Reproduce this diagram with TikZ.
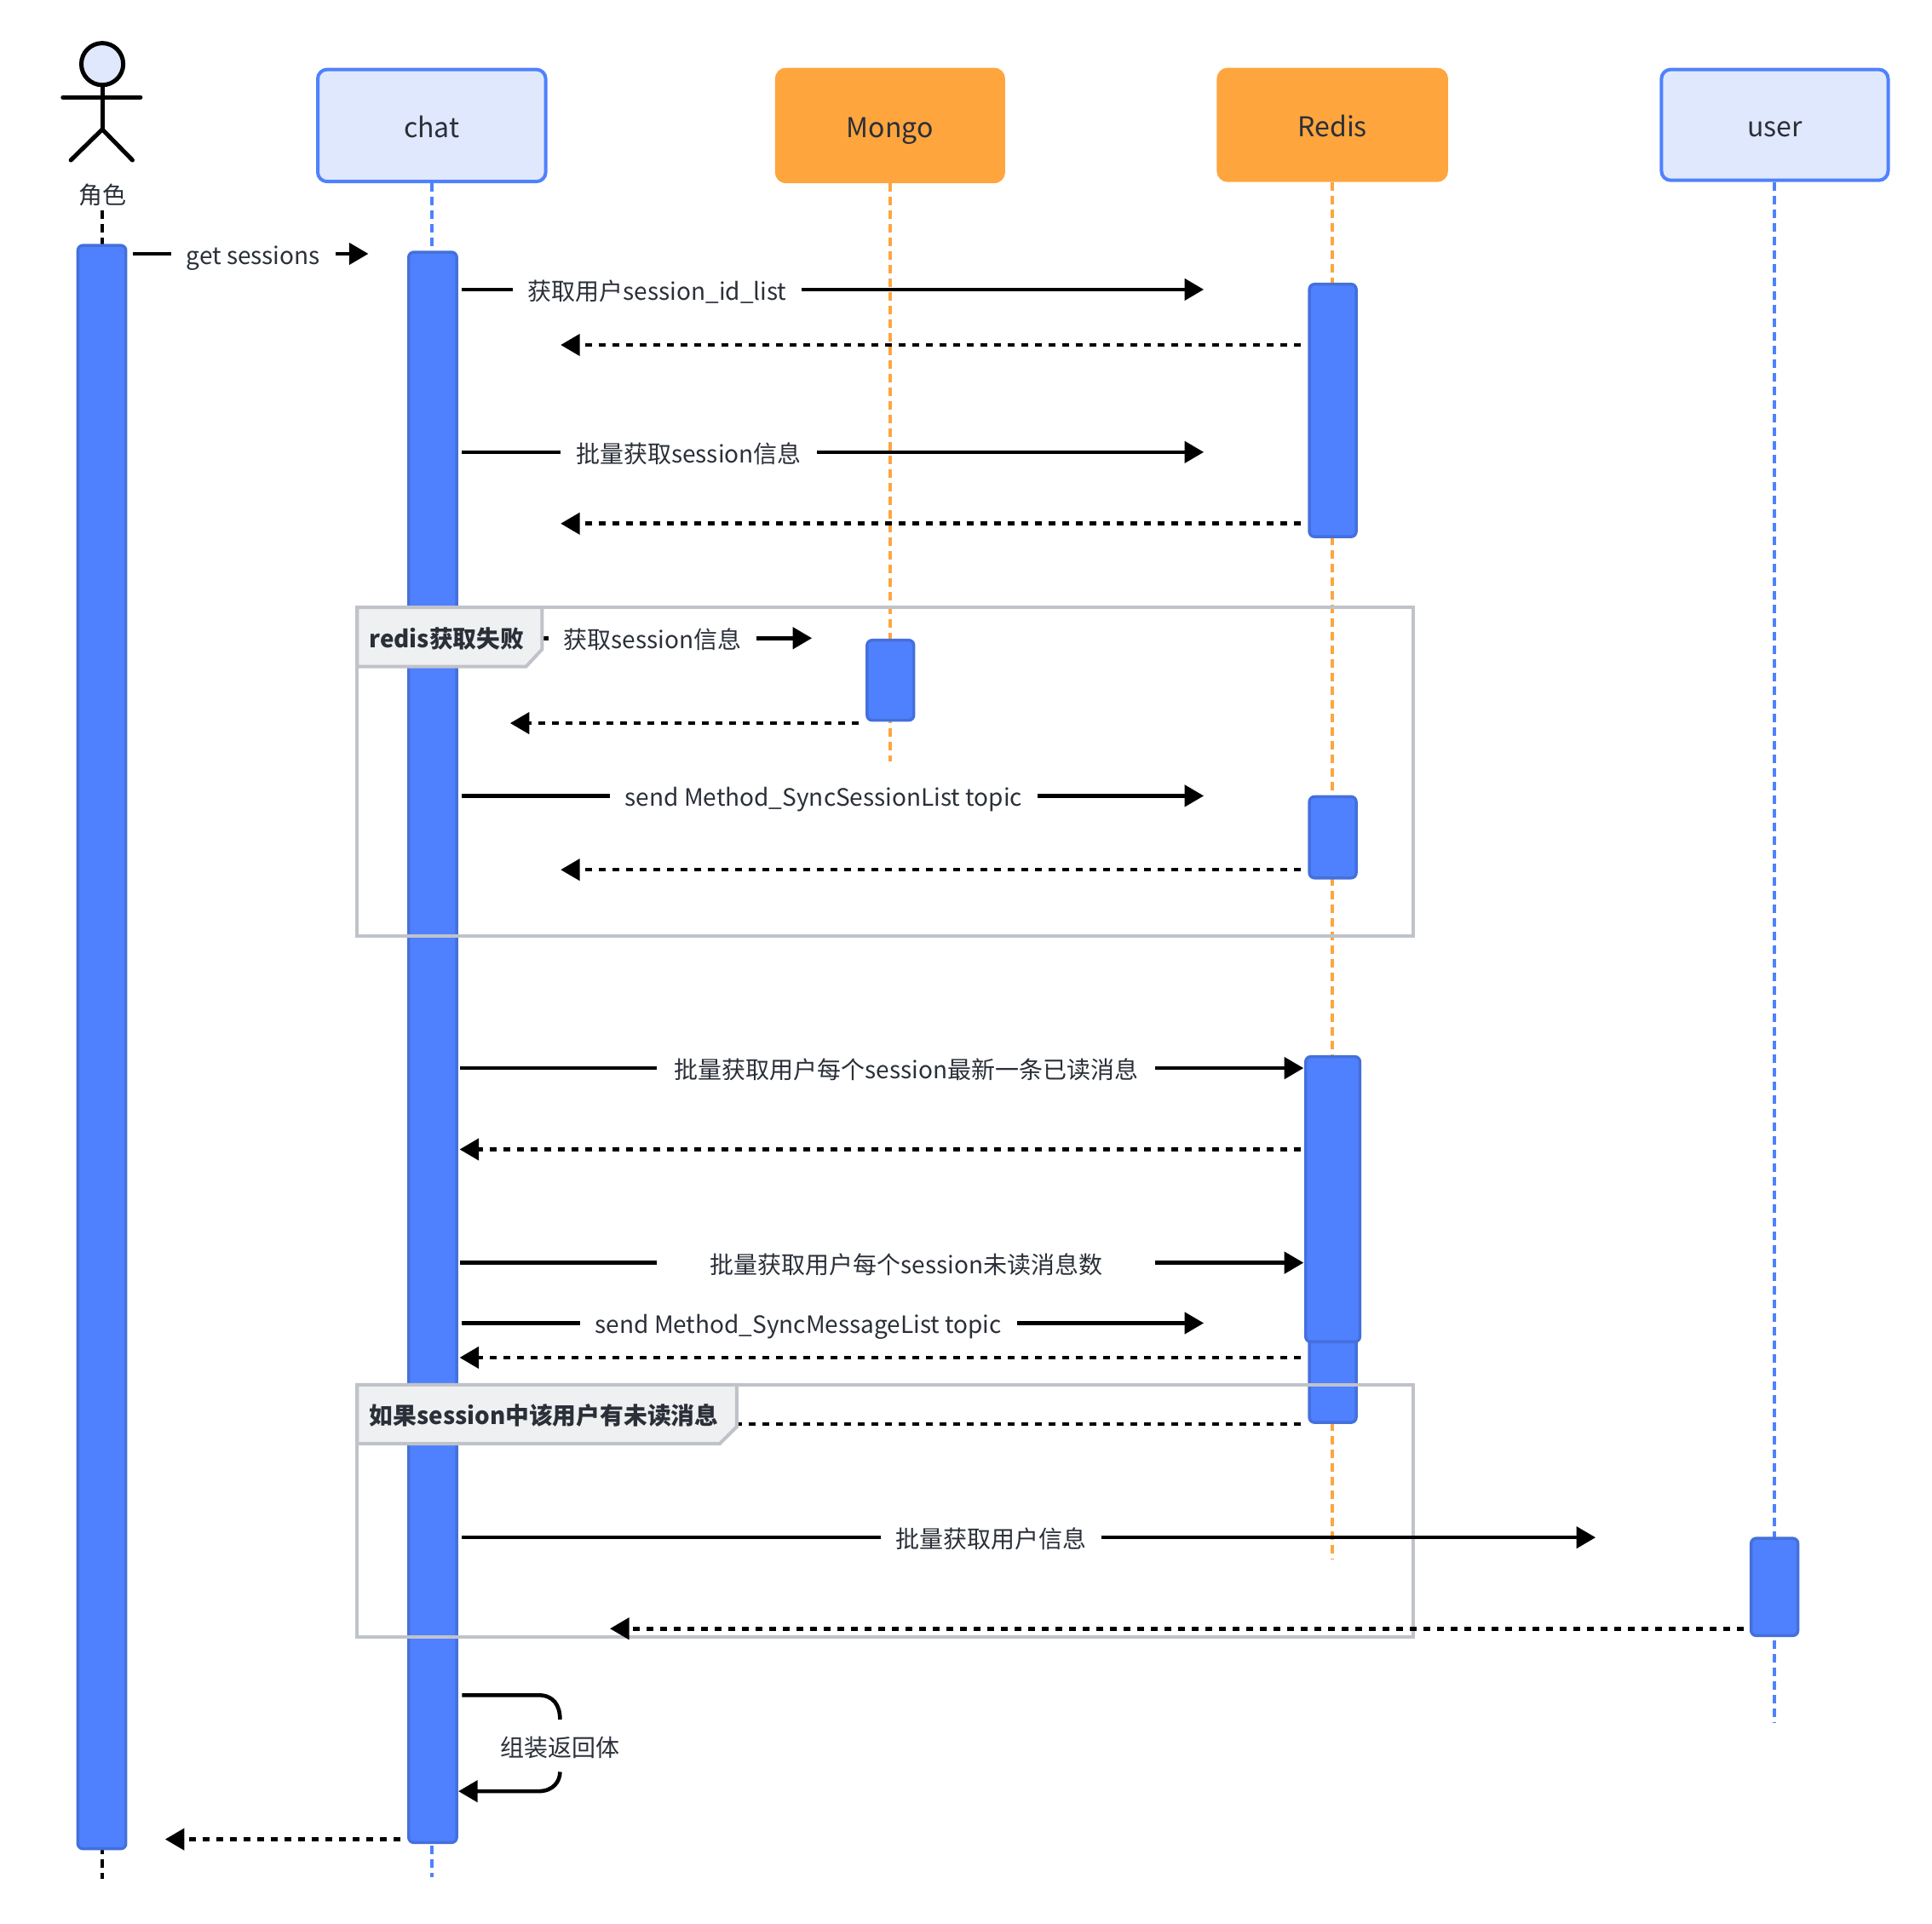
\documentclass[tikz,border=0pt]{standalone}
\usepackage{fontspec}
\setmainfont{Noto Sans CJK SC}
\usetikzlibrary{arrows.meta,calc}
\def\U{0.7232pt}
\definecolor{barfill}{HTML}{4F81FF}
\definecolor{barline}{HTML}{4470DC}
\definecolor{boxfill}{HTML}{E0E8FD}
\definecolor{boxline}{HTML}{4F81FF}
\definecolor{orangefill}{HTML}{FFA53E}
\definecolor{framegrey}{HTML}{BFC3C9}
\definecolor{tagfill}{HTML}{EFF0F2}
\definecolor{inktext}{HTML}{2A2F38}
\tikzset{
  x=0.7232pt,y=-0.7232pt,
  partbox/.style={draw=boxline,fill=boxfill,line width=2pt,rounded corners=5.5pt,anchor=north west,inner sep=0pt,text=inktext,font=\fontsize{16}{18}\selectfont,text height=14pt,text depth=0pt},
  partorange/.style={partbox,draw=orangefill,fill=orangefill},
  bar/.style={draw=barline,fill=barfill,line width=1.7pt,rounded corners=3pt,anchor=north west,inner sep=0pt},
  life/.style={line width=2pt,dash pattern=on 5pt off 3pt},
  msgtext/.style={inner ysep=0pt,inner xsep=8.7pt,text=inktext,font=\fontsize{14}{16}\selectfont,text height=12.4pt,text depth=0pt},
  msgline/.style={line width=2.3pt,draw=black},
  msgarrow/.style={msgline,-{Triangle[length=11.3pt,width=12.5pt]}},
  retarrow/.style={line width=2.3pt,dash pattern=on 4pt off 4pt,-{Triangle[length=11.3pt,width=12.5pt]}},
  framerect/.style={draw=framegrey,line width=2pt},
  frametag/.style={draw=framegrey,fill=tagfill,line width=2pt},
  tagtext/.style={inner sep=0pt,text=inktext,font=\fontsize{13.9}{16}\selectfont\bfseries,text height=11pt,text depth=0pt},
  stick/.style={line width=2.5pt,line cap=round,draw=black},
}
% name, y, x-start, x-end, label centre x, text
\newcommand\callmsg[6]{%
  \coordinate (#1s) at (#3,#2);
  \coordinate (#1e) at (#4,#2);
  \node[msgtext] (#1l) at (#5,#2) {#6};
  \draw[msgline] (#1s) -- (#1l.west);
  \draw[msgarrow] (#1l.east) -- (#1e);
}
% name, y, x-start, x-end
\newcommand\retmsg[4]{%
  \coordinate (#1s) at (#3,#2);
  \coordinate (#1e) at (#4,#2);
  \draw[retarrow] (#1s) -- (#1e);
}
\begin{document}
\begin{tikzpicture}
\useasboundingbox (0,0) rectangle (1568,1561.1);
% actor
\node[circle,draw=black,fill=boxfill,line width=2.5pt,minimum size=34*\U,inner sep=0pt] (actorhead) at (83,52) {};
\coordinate (actorhip) at (83,105);
\coordinate (arml) at (51,79);
\coordinate (armr) at (114,79);
\coordinate (legl) at (57.5,130);
\coordinate (legr) at (107.5,130);
\draw[stick] (actorhead.south) -- (actorhip);
\draw[stick] (arml) -- (armr);
\draw[stick] (legl) -- (actorhip) -- (legr);
\node[msgtext,inner xsep=0pt] (actorlabel) at (83,157) {角色};
% participants
\node[partbox,minimum width=185*\U,minimum height=91*\U] (chat) at (256.5,55) {chat};
\node[partorange,minimum width=184*\U,minimum height=91*\U] (mongo) at (629,55) {Mongo};
\node[partorange,minimum width=185*\U,minimum height=90*\U] (redis) at (987.5,55) {Redis};
\node[partbox,minimum width=184*\U,minimum height=90*\U] (user) at (1347,55) {user};
% lifeline ends
\coordinate (actorend) at (83,1525);
\coordinate (actorstart) at (83,171);
\coordinate (chatend) at (350.5,1524);
\coordinate (mongoend) at (722.5,618);
\coordinate (redisend) at (1081,1266);
\coordinate (userend) at (1440,1398);
\draw[life,draw=black] (actorstart) -- (actorend);
\draw[life,draw=boxline] (chat.south) -- (chat.south |- chatend);
\draw[life,draw=orangefill] (mongo.south) -- (mongo.south |- mongoend);
\draw[life,draw=orangefill] (redis.south) -- (redis.south |- redisend);
\draw[life,draw=boxline] (user.south) -- (user.south |- userend);
% activations
\node[bar,minimum width=39*\U,minimum height=1301.5*\U] (actorbar) at (62,198) {};
\node[bar,minimum width=39*\U,minimum height=1291*\U] (chatbar) at (330.5,203.5) {};
\node[bar,minimum width=38*\U,minimum height=65*\U] (mongobar) at (702.5,518.5) {};
\node[bar,minimum width=38*\U,minimum height=205*\U] (redisbara) at (1061.5,229.5) {};
\node[bar,minimum width=38*\U,minimum height=66*\U] (redisbarb) at (1061.5,645.5) {};
\node[bar,minimum width=38*\U,minimum height=88.5*\U] (redisbard) at (1061.5,1065) {};
\node[bar,minimum width=44*\U,minimum height=231.5*\U] (redisbarc) at (1058.5,856.5) {};
\node[bar,minimum width=38*\U,minimum height=79*\U] (userbar) at (1420,1247.5) {};
% frames
\coordinate (fa1) at (290,493); \coordinate (fa2) at (1147,760);
\coordinate (fb1) at (290,1124); \coordinate (fb2) at (1147,1329);
\draw[framerect] (fa1) rectangle (fa2);
\draw[framerect] (fb1) rectangle (fb2);
% messages
\callmsg{m1}{206}{108}{299}{205.5}{get sessions}
\callmsg{m2}{235}{375}{977}{533.5}{获取用户session\_id\_list}
\retmsg{r2}{280}{1056}{455}
\callmsg{m3}{367}{375}{977}{559}{批量获取session信息}
\retmsg{r3}{425}{1056}{455}
\callmsg{m4}{518}{375}{659}{529.5}{获取session信息}
\retmsg{r4}{587}{697}{414}
\callmsg{m5}{646}{375}{977}{668.5}{send Method\_SyncSessionList topic}
\retmsg{r5}{706}{1056}{455}
\coordinate (m6s) at (373,867);
\coordinate (m6e) at (1058,867);
\node[msgtext,minimum width=404*\U,inner xsep=0pt] (m6l) at (735.5,867) {批量获取用户每个session最新一条已读消息};
\draw[msgline] (m6s) -- (m6l.west);
\draw[msgarrow] (m6l.east) -- (m6e);
\retmsg{r6}{933}{1056}{373}
\coordinate (m7s) at (373,1025);
\coordinate (m7e) at (1058,1025);
\node[msgtext,minimum width=404*\U,inner xsep=0pt] (m7l) at (735.5,1025) {批量获取用户每个session未读消息数};
\draw[msgline] (m7s) -- (m7l.west);
\draw[msgarrow] (m7l.east) -- (m7e);
\callmsg{m8}{1074}{375}{977}{648}{send Method\_SyncMessageList topic}
\retmsg{r8}{1102}{1056}{373}
\retmsg{r9}{1156}{1056}{455}
\callmsg{m10}{1248}{375}{1295}{804.5}{批量获取用户信息}
\retmsg{r10}{1322}{1415}{495}
% self message
\coordinate (selfs) at (375,1376);
\coordinate (selfe) at (372,1454);
\node[msgtext,inner xsep=0pt,minimum height=42*\U] (selfl) at (454.5,1417) {组装返回体};
\draw[msgline] (selfs) -- (437,1376) .. controls (449,1376) and (454.5,1384) .. (selfl.north);
\draw[msgarrow] (selfl.south) .. controls (454.5,1446) and (449,1454) .. (437,1454) -- (selfe);
\retmsg{r11}{1493}{325}{134}
% frame tags
\draw[frametag] (fa1) -- (440,493) -- (440,527) -- (427,541) -- (290,541) -- cycle;
\node[tagtext] (tagone) at (362.5,518) {redis获取失败};
\draw[frametag] (fb1) -- (598,1124) -- (598,1158) -- (584,1172) -- (290,1172) -- cycle;
\node[tagtext] (tagtwo) at (441.5,1149) {如果session中该用户有未读消息};
\end{tikzpicture}
\end{document}
